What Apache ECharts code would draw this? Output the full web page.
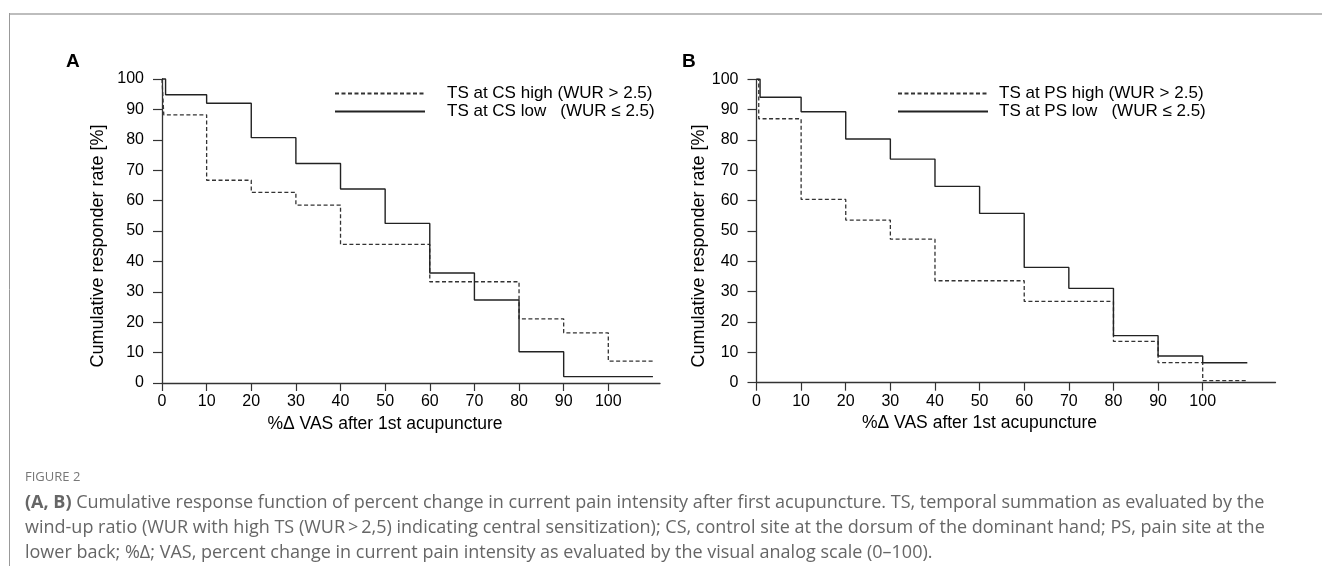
<!DOCTYPE html>
<html>
<head>
<meta charset="utf-8">
<script src="https://cdn.jsdelivr.net/npm/echarts@6/dist/echarts.min.js"></script>
<style>
html,body{margin:0;padding:0;background:#fff;}
#chart{width:1322px;height:570px;}
</style>
</head>
<body>
<div id="chart"></div>
<script>
// ---- data ----
const xTickLabels = [0, 10, 20, 30, 40, 50, 60, 70, 80, 90, 100];
const yTickLabels = [0, 10, 20, 30, 40, 50, 60, 70, 80, 90, 100];

// Panel A (CS)
const aHighX = [0, 0.4, 10, 20, 30, 40, 60, 80, 90, 100, 110];
const aHighY = [100, 88.2, 66.7, 62.7, 58.5, 45.6, 33.3, 21.1, 16.5, 7.2, 7.2];
const aLowX  = [0, 0.8, 10, 20, 30, 40, 50, 60, 70, 80, 90, 110];
const aLowY  = [100, 94.8, 92.0, 80.7, 72.2, 63.8, 52.5, 36.2, 27.3, 10.3, 2.1, 2.1];

// Panel B (PS)
const bHighX = [0, 0.5, 10, 20, 30, 40, 60, 80, 90, 100, 110];
const bHighY = [100, 87.0, 60.4, 53.6, 47.3, 33.6, 26.8, 13.6, 6.6, 0.7, 0.7];
const bLowX  = [0, 0.8, 10, 20, 30, 40, 50, 60, 70, 80, 90, 100, 110];
const bLowY  = [100, 94.1, 89.3, 80.3, 73.7, 64.7, 55.8, 38.0, 31.1, 15.5, 8.8, 6.6, 6.6];

const nameAHigh = 'TS at CS high (WUR > 2.5)';
const nameALow  = 'TS at CS low   (WUR \u2264 2.5)';
const nameBHigh = 'TS at PS high (WUR > 2.5)';
const nameBLow  = 'TS at PS low   (WUR \u2264 2.5)';

const xTitle = '%\u0394 VAS after 1st acupuncture';
const yTitle = 'Cumulative responder rate [%]';

const captionHead = 'FIGURE 2';
const captionLines = [
  '{b|(A, B)} Cumulative response function of percent change in current pain intensity after first acupuncture. TS, temporal summation as evaluated by the',
  'wind-up ratio (WUR with high TS (WUR\u2009>\u20092,5) indicating central sensitization); CS, control site at the dorsum of the dominant hand; PS, pain site at the',
  'lower back; %\u0394; VAS, percent change in current pain intensity as evaluated by the visual analog scale (0\u2013100).'
];

// ---- chart ----
const FONT = 'Liberation Sans';
const zip = (xs, ys) => xs.map((x, i) => [x, ys[i]]);

function xAxisCfg(gridIndex, max, shift) {
  return {
    type: 'value', gridIndex, min: 0, max,
    name: xTitle, nameLocation: 'middle', nameGap: 26,
    nameTextStyle: { fontFamily: FONT, fontSize: 17.5, color: '#000', padding: [0, shift, 0, 0] },
    axisLine: { show: true, onZero: false, lineStyle: { color: '#333', width: 1.3 } },
    axisTick: { show: true, length: 8, customValues: xTickLabels, lineStyle: { color: '#333', width: 1.2 } },
    axisLabel: { show: true, customValues: xTickLabels, margin: 11, fontFamily: FONT, fontSize: 16, color: '#000' },
    splitLine: { show: false }
  };
}
function yAxisCfg(gridIndex, gap) {
  return {
    type: 'value', gridIndex, min: 0, max: 100, interval: 10,
    name: yTitle, nameLocation: 'middle', nameGap: gap,
    nameTextStyle: { fontFamily: FONT, fontSize: 18, color: '#000', padding: [0, 30, 0, 0] },
    axisLine: { show: true, onZero: false, lineStyle: { color: '#333', width: 1.3 } },
    axisTick: { show: true, length: 9, lineStyle: { color: '#333', width: 1.2 } },
    axisLabel: { show: true, margin: 18, fontFamily: FONT, fontSize: 16, color: '#000' },
    splitLine: { show: false }
  };
}
function seriesCfg(name, xi, data, dashed) {
  const col = dashed ? '#333' : '#222';
  return {
    type: 'line', name, xAxisIndex: xi, yAxisIndex: xi, data, step: 'end',
    symbol: 'none', showSymbol: false, clip: false, animation: false,
    color: col, itemStyle: { color: col },
    lineStyle: dashed ? { color: col, width: 1.3, type: [4, 2.5] } : { color: col, width: 1.4, type: 'solid' }
  };
}
function legendCfg(left, names, gapText) {
  return {
    left, top: 85, orient: 'vertical', padding: 0,
    itemWidth: 90, itemHeight: 16, itemGap: 1,
    data: names, selectedMode: false,
    itemStyle: { opacity: 0 },
    textStyle: { fontFamily: FONT, fontSize: 17, color: '#000', padding: [0, 0, 0, gapText] }
  };
}

const chart = echarts.init(document.getElementById('chart'), null, { renderer: 'canvas' });
chart.setOption({
  backgroundColor: '#fff',
  animation: false,
  grid: [
    { left: 162, top: 79, width: 498, height: 304, outerBoundsMode: 'none', containLabel: false },
    { left: 756.5, top: 79.3, width: 519, height: 303.4, outerBoundsMode: 'none', containLabel: false }
  ],
  xAxis: [ xAxisCfg(0, 498 / 4.463, 52), xAxisCfg(1, 519 / 4.462, 73) ],
  yAxis: [ yAxisCfg(0, 55), yAxisCfg(1, 48) ],
  legend: [
    legendCfg(334, [nameAHigh, nameALow], 17),
    legendCfg(897, [nameBHigh, nameBLow], 6)
  ],
  series: [
    seriesCfg(nameAHigh, 0, zip(aHighX, aHighY), true),
    seriesCfg(nameALow, 0, zip(aLowX, aLowY), false),
    seriesCfg(nameBHigh, 1, zip(bHighX, bHighY), true),
    seriesCfg(nameBLow, 1, zip(bLowX, bLowY), false)
  ],
  graphic: [
    { type: 'line', shape: { x1: 9, y1: 14, x2: 1322, y2: 14 }, style: { stroke: '#bdbdbd', lineWidth: 2 } },
    { type: 'line', shape: { x1: 9.5, y1: 13, x2: 9.5, y2: 566 }, style: { stroke: '#999', lineWidth: 1 } },
    { type: 'text', left: 66, top: 52, style: { text: 'A', font: 'bold 19px "Liberation Sans"', fill: '#000' } },
    { type: 'text', left: 682, top: 52, style: { text: 'B', font: 'bold 19px "Liberation Sans"', fill: '#000' } },
    { type: 'text', left: 25, top: 471, style: { text: captionHead, fontFamily: 'Open Sans', fontSize: 13, fill: '#777' } },
    ...captionLines.map((t, i) => ({
      type: 'text', left: 25, top: 494 + i * 25,
      style: {
        text: t, fontFamily: 'Open Sans', fontSize: 18, fill: '#666',
        rich: { b: { fontFamily: 'Open Sans', fontSize: 18, fontWeight: 'bold', fill: '#666' } }
      }
    }))
  ]
});
</script>
</body>
</html>
